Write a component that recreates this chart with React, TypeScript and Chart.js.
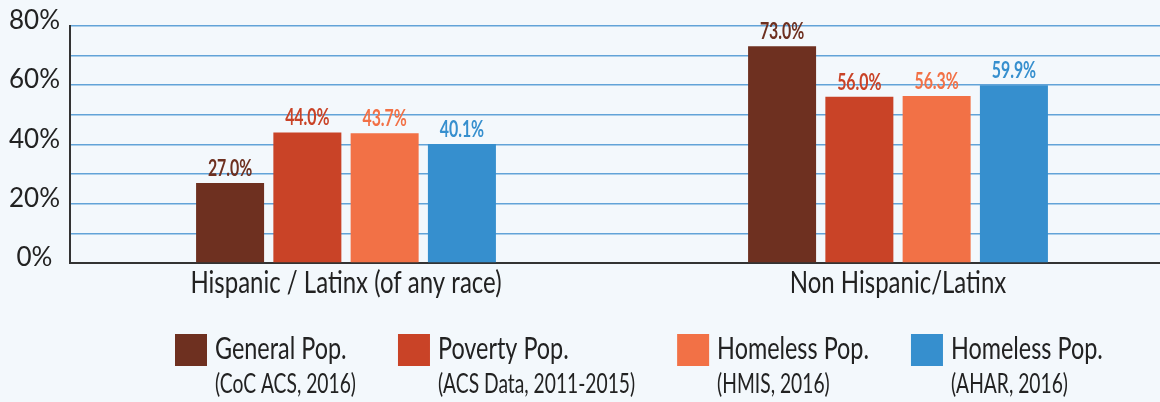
import React, { useEffect, useRef } from "react";
import { Chart, registerables } from "chart.js";

Chart.register(...registerables);

const categories = ["Hispanic / Latinx (of any race)", "Non Hispanic/Latinx"];
const seriesNames = ["General Pop.", "Poverty Pop.", "Homeless Pop.", "Homeless Pop."];
const seriesSources = ["(CoC ACS, 2016)", "(ACS Data, 2011-2015)", "(HMIS, 2016)", "(AHAR, 2016)"];
const generalPop = [27.0, 73.0];
const povertyPop = [44.0, 56.0];
const homelessHmis = [43.7, 56.3];
const homelessAhar = [40.1, 59.9];
const yMax = 80;
const yStep = 10;
const yLabelEvery = 20;

const seriesColors = ["#6e3020", "#c94327", "#f27146", "#368fce"];
const FONT = 'Lato, "DejaVu Sans", sans-serif';
const CONDENSE = 0.8;

function condensedText(
  ctx: CanvasRenderingContext2D,
  text: string,
  x: number,
  y: number,
  font: string,
  color: string,
  align: CanvasTextAlign,
  sx: number
) {
  ctx.save();
  ctx.font = font;
  ctx.fillStyle = color;
  ctx.textAlign = align;
  ctx.textBaseline = "alphabetic";
  ctx.translate(x, y);
  ctx.scale(sx, 1);
  ctx.fillText(text, 0, 0);
  const w = ctx.measureText(text).width * sx;
  ctx.restore();
  return w;
}

const valueLabels = {
  id: "valueLabels",
  afterDatasetsDraw(chart: any) {
    const ctx = chart.ctx;
    chart.data.datasets.forEach((ds: any, i: number) => {
      const meta = chart.getDatasetMeta(i);
      meta.data.forEach((bar: any, j: number) => {
        condensedText(ctx, ds.data[j].toFixed(1) + "%", bar.x, bar.y - 7,
          `bold 23px ${FONT}`, ds.backgroundColor, "center", 0.69);
      });
    });
  },
};

const categoryLabels = {
  id: "categoryLabels",
  afterDraw(chart: any) {
    const ctx = chart.ctx;
    const xs = chart.scales.x;
    chart.data.labels.forEach((lab: string, i: number) => {
      condensedText(ctx, lab, xs.getPixelForTick(i), xs.top + 30,
        `30px ${FONT}`, "#222", "center", CONDENSE);
    });
  },
};

const customLegend = {
  id: "customLegend",
  afterDraw(chart: any) {
    const ctx = chart.ctx;
    const box = 32;
    const top = 334;
    let x = chart.chartArea.left + 105;
    chart.data.datasets.forEach((ds: any, i: number) => {
      ctx.save();
      ctx.fillStyle = ds.backgroundColor;
      ctx.fillRect(x, top, box, box);
      ctx.restore();
      const tx = x + box + 8;
      const w1 = condensedText(ctx, seriesNames[i], tx, top + 25, `30px ${FONT}`, "#222", "left", 0.78);
      const w2 = condensedText(ctx, seriesSources[i], tx, top + 59, `26px ${FONT}`, "#222", "left", 0.74);
      x = tx + Math.max(w1, w2) + 42;
    });
  },
};

export default function App() {
  const ref = useRef<HTMLCanvasElement | null>(null);
  useEffect(() => {
    if (!ref.current) return;
    const chart = new Chart(ref.current, {
      type: "bar",
      data: {
        labels: categories,
        datasets: [
          { label: seriesNames[0], data: generalPop, backgroundColor: seriesColors[0] },
          { label: seriesNames[1], data: povertyPop, backgroundColor: seriesColors[1] },
          { label: seriesNames[2], data: homelessHmis, backgroundColor: seriesColors[2] },
          { label: seriesNames[3], data: homelessAhar, backgroundColor: seriesColors[3] },
        ],
      },
      options: {
        responsive: false,
        animation: false,
        devicePixelRatio: 1,
        layout: { padding: { top: 23, right: 2, left: 0, bottom: 0 } },
        datasets: { bar: { categoryPercentage: 0.56, barPercentage: 0.88 } } as any,
        plugins: { legend: { display: false }, tooltip: { enabled: false } },
        scales: {
          x: {
            grid: { display: false, drawTicks: false },
            border: { display: true, color: "#333", width: 2 },
            ticks: { display: false },
            afterFit(scale: any) {
              scale.height = 139;
            },
          },
          y: {
            min: 0,
            max: yMax,
            grid: { color: "#62a3d8", lineWidth: 1.5, drawTicks: false },
            border: { display: true, color: "#333", width: 2 },
            ticks: {
              stepSize: yStep,
              autoSkip: false,
              color: "#222",
              font: { family: "Lato", size: 26 },
              padding: 10,
              crossAlign: "center",
              labelOffset: -5,
              callback: (v: any) => (Number(v) % yLabelEvery === 0 ? v + "%" : ""),
            },
            afterFit(scale: any) {
              scale.width = 70;
            },
          },
        },
      },
      plugins: [valueLabels, categoryLabels, customLegend],
    });
    return () => chart.destroy();
  }, []);
  return (
    <div
      style={{
        position: "absolute",
        left: 0,
        top: 0,
        width: 1160,
        height: 402,
        overflow: "hidden",
        background: "#f3f8fc",
      }}
    >
      <canvas ref={ref} width={1176} height={402} style={{ display: "block" }} />
    </div>
  );
}
